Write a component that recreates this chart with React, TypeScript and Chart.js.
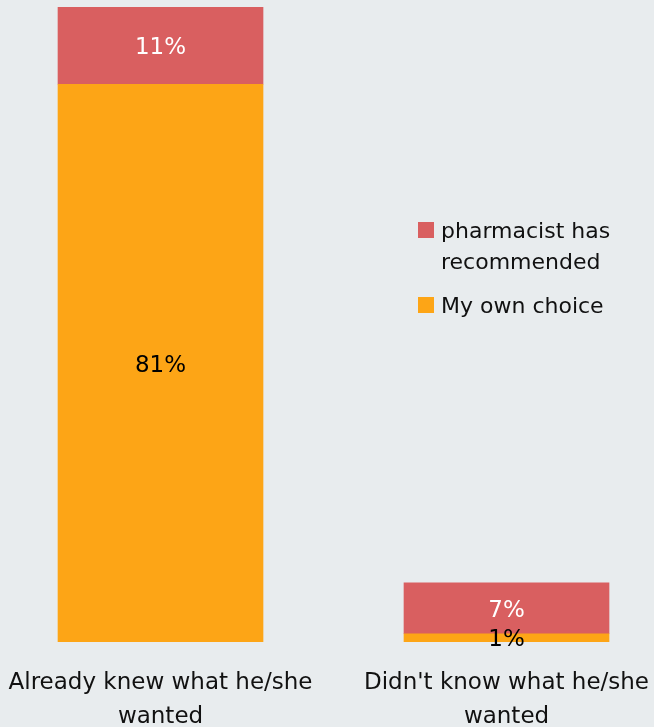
import React, { useEffect, useRef } from "react";
import { Chart, registerables } from "chart.js";

Chart.register(...registerables);

// ---- data ----
const categories: string[][] = [
  ["Already knew what he/she", "wanted"],
  ["Didn't know what he/she", "wanted"],
];
const categoryPositions = [0, 1];
const seriesNames = ["My own choice", "pharmacist has recommended"];
const legendLines: string[][] = [["pharmacist has", "recommended"], ["My own choice"]];
const ownChoice = [80.9, 1.2];
const pharmacist = [11.2, 7.4];
const ownChoiceLabels = ["81%", "1%"];
const pharmacistLabels = ["11%", "7%"];

const RED = "#d95f60";
const ORANGE = "#fda516";
const BG = "#e8ecee";
const FONT = "'DejaVu Sans', Verdana, sans-serif";

const W = 654;
const H = 727;

export default function App() {
  const ref = useRef<HTMLCanvasElement | null>(null);

  useEffect(() => {
    const canvas = ref.current;
    if (!canvas) return;

    const labelsPlugin = {
      id: "customLabels",
      beforeDraw(chart: any) {
        const ctx = chart.ctx;
        ctx.save();
        ctx.fillStyle = BG;
        ctx.fillRect(0, 0, chart.width, chart.height);
        ctx.restore();
      },
      afterDatasetsDraw(chart: any) {
        const ctx = chart.ctx;
        ctx.save();
        // segment value labels
        const labelSets = [ownChoiceLabels, pharmacistLabels];
        const colors = ["#000000", "#ffffff"];
        ctx.font = `23px ${FONT}`;
        ctx.textAlign = "center";
        ctx.textBaseline = "alphabetic";
        chart.data.datasets.forEach((ds: any, di: number) => {
          const meta = chart.getDatasetMeta(di);
          meta.data.forEach((el: any, i: number) => {
            const p = el.getProps(["x", "y", "base"], true);
            const cy = (p.y + p.base) / 2;
            ctx.fillStyle = colors[di];
            ctx.fillText(labelSets[di][i], p.x, cy + 8.5);
          });
        });

        // x category labels
        const xs = chart.scales.x;
        const bottom = chart.chartArea.bottom;
        ctx.fillStyle = "#111111";
        ctx.font = `23px ${FONT}`;
        categories.forEach((lines, i) => {
          const x = xs.getPixelForValue(categoryPositions[i]);
          lines.forEach((line, li) => {
            ctx.fillText(line, x, bottom + 47 + li * 34);
          });
        });

        // legend
        ctx.textAlign = "left";
        ctx.font = `22px ${FONT}`;
        const legendColors = [RED, ORANGE];
        const legendTops = [222, 297];
        legendLines.forEach((lines, i) => {
          ctx.fillStyle = legendColors[i];
          ctx.fillRect(418, legendTops[i], 16, 16);
          ctx.fillStyle = "#111111";
          lines.forEach((line, li) => {
            ctx.fillText(line, 441, legendTops[i] + 15.5 + li * 31);
          });
        });
        ctx.restore();
      },
    };

    const chart = new Chart(canvas, {
      type: "bar",
      data: {
        datasets: [
          {
            label: seriesNames[0],
            data: categoryPositions.map((x, i) => ({ x, y: ownChoice[i] })),
            backgroundColor: ORANGE,
            borderWidth: 0,
            barThickness: 205,
          },
          {
            label: seriesNames[1],
            data: categoryPositions.map((x, i) => ({ x, y: pharmacist[i] })),
            backgroundColor: RED,
            borderWidth: 0,
            barThickness: 205,
          },
        ],
      },
      options: {
        responsive: false,
        animation: false,
        layout: { padding: { top: 7, bottom: 85, left: 0, right: 0 } },
        plugins: {
          legend: { display: false },
          tooltip: { enabled: false },
        },
        scales: {
          x: {
            type: "linear",
            stacked: true,
            display: false,
            offset: false,
            min: -0.4639,
            max: 1.4263,
          },
          y: {
            stacked: true,
            display: false,
            min: 0,
            max: 92.1,
          },
        },
      },
      plugins: [labelsPlugin],
    });

    return () => chart.destroy();
  }, []);

  return (
    <div
      style={{
        position: "absolute",
        left: 0,
        top: 0,
        width: W,
        height: H,
        background: BG,
      }}
    >
      <canvas ref={ref} width={W} height={H} style={{ display: "block" }} />
    </div>
  );
}
